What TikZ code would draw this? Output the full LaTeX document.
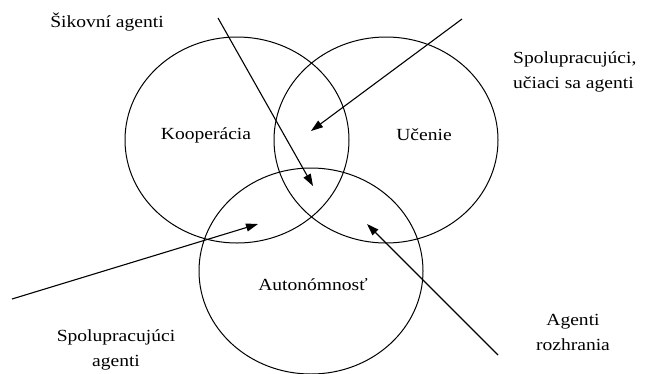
\documentclass[tikz,border=0pt]{standalone}
\usepackage{fontspec}
\setmainfont[FakeStretch=1.15]{Liberation Serif}
\usetikzlibrary{shapes.geometric,arrows.meta}
\begin{document}
\begin{tikzpicture}[x=1pt,y=-1pt,
  ring/.style={draw, ellipse, line width=1pt, minimum width=224pt, minimum height=206pt, inner sep=0pt},
  lbl/.style={font=\fontsize{17}{25}\selectfont, inner sep=0pt},
  arr/.style={line width=1.1pt, -{Triangle[length=12pt,width=8pt]}}]
\useasboundingbox (0,0) rectangle (655,373);
\node[ring] (c1) at (237,140) {};
\node[ring] (c2) at (386,140) {};
\node[ring] (c3) at (311,271) {};
\node[lbl] (koop) at (206,135) {Kooperácia};
\node[lbl] (uc) at (424,135) {Učenie};
\node[lbl] (aut) at (313,285) {Autonómnosť};
\node[lbl] (sik) at (107,22) {Šikovní agenti};
\node[lbl, align=left, anchor=west] (spu) at (513,72) {Spolupracujúci,\\učiaci sa agenti};
\node[lbl, align=center] (spa) at (116,350) {Spolupracujúci\\agenti};
\node[lbl, align=center] (agr) at (573,332) {Agenti\\rozhrania};
\coordinate (a1s) at (218,18);
\coordinate (a1e) at (313,186);
\coordinate (a2s) at (462,19);
\coordinate (a2e) at (311,131);
\coordinate (a3s) at (12,299);
\coordinate (a3e) at (258,224);
\coordinate (a4s) at (498,355);
\coordinate (a4e) at (367,224);
\draw[arr] (a1s) -- (a1e);
\draw[arr] (a2s) -- (a2e);
\draw[arr] (a3s) -- (a3e);
\draw[arr] (a4s) -- (a4e);
\end{tikzpicture}
\end{document}
